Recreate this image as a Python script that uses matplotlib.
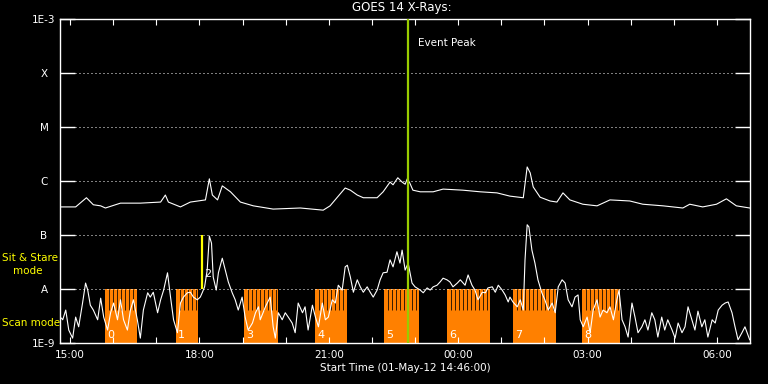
import matplotlib
matplotlib.use('Agg')
import matplotlib.pyplot as plt
import numpy as np
from matplotlib.ticker import NullLocator

# times are hours after 00:00 on 01-May-12 (values past 24 are 02-May)
long_t = [14.78, 15.13, 15.38, 15.54, 15.71, 15.82, 16.17, 16.63, 17.10, 17.21, 17.28, 17.56,
          17.79, 18.14, 18.23, 18.30, 18.42, 18.53, 18.72, 18.95, 19.25, 19.71, 20.34, 20.87,
          21.03, 21.22, 21.38, 21.50, 21.66, 21.80, 22.12, 22.26, 22.42, 22.49, 22.60, 22.70,
          22.77, 22.82, 22.88, 22.95, 23.12, 23.42, 23.65, 24.11, 24.51, 24.90, 25.20, 25.51,
          25.60, 25.67, 25.74, 25.90, 26.13, 26.29, 26.43, 26.59, 26.89, 27.22, 27.52, 27.98,
          28.28, 28.75, 29.21, 29.37, 29.67, 29.99, 30.22, 30.45, 30.76]
long_logf = [-6.48, -6.48, -6.31, -6.44, -6.46, -6.50, -6.41, -6.41, -6.39, -6.26, -6.39, -6.48,
             -6.39, -6.35, -5.96, -6.26, -6.35, -6.09, -6.20, -6.39, -6.46, -6.52, -6.50, -6.54,
             -6.46, -6.28, -6.13, -6.17, -6.26, -6.31, -6.31, -6.20, -6.02, -6.07, -5.94, -6.02,
             -6.06, -5.96, -6.04, -6.17, -6.20, -6.20, -6.15, -6.17, -6.20, -6.22, -6.28, -6.31,
             -5.74, -5.85, -6.11, -6.30, -6.37, -6.39, -6.22, -6.35, -6.43, -6.46, -6.35, -6.37,
             -6.43, -6.46, -6.50, -6.43, -6.48, -6.43, -6.33, -6.46, -6.50]

short_t = [14.80, 14.83, 14.90, 14.97, 15.06, 15.13, 15.20, 15.29, 15.36, 15.41, 15.47, 15.54,
           15.64, 15.71, 15.78, 15.87, 15.94, 16.01, 16.10, 16.17, 16.24, 16.33, 16.40, 16.47,
           16.56, 16.63, 16.70, 16.80, 16.86, 16.93, 17.03, 17.10, 17.17, 17.26, 17.33, 17.40,
           17.49, 17.56, 17.63, 17.72, 17.79, 17.86, 17.95, 18.02, 18.07, 18.12, 18.18, 18.23,
           18.28, 18.32, 18.39, 18.44, 18.53, 18.60, 18.67, 18.76, 18.83, 18.90, 18.99, 19.06,
           19.13, 19.23, 19.30, 19.37, 19.41, 19.53, 19.64, 19.71, 19.76, 19.83, 19.92, 19.99,
           20.06, 20.15, 20.22, 20.29, 20.39, 20.45, 20.52, 20.62, 20.69, 20.76, 20.85, 20.92,
           20.99, 21.08, 21.15, 21.22, 21.31, 21.38, 21.43, 21.50, 21.57, 21.66, 21.73, 21.80,
           21.89, 21.96, 22.03, 22.12, 22.19, 22.26, 22.35, 22.42, 22.49, 22.58, 22.65, 22.70,
           22.77, 22.84, 22.93, 23.00, 23.12, 23.19, 23.28, 23.35, 23.42, 23.51, 23.58, 23.65,
           23.74, 23.81, 23.88, 23.98, 24.05, 24.16, 24.23, 24.32, 24.39, 24.46, 24.56, 24.63,
           24.69, 24.79, 24.86, 24.93, 25.02, 25.09, 25.16, 25.20, 25.27, 25.37, 25.44, 25.51,
           25.55, 25.60, 25.64, 25.71, 25.78, 25.85, 25.94, 26.01, 26.09, 26.18, 26.25, 26.32,
           26.41, 26.48, 26.55, 26.64, 26.71, 26.78, 26.83, 26.90, 26.99, 27.06, 27.13, 27.22,
           27.29, 27.36, 27.45, 27.52, 27.60, 27.68, 27.73, 27.80, 27.87, 27.94, 28.03, 28.10,
           28.17, 28.26, 28.33, 28.40, 28.49, 28.56, 28.63, 28.72, 28.79, 28.86, 28.96, 29.03,
           29.10, 29.19, 29.26, 29.33, 29.42, 29.49, 29.56, 29.65, 29.72, 29.79, 29.89, 29.96,
           30.03, 30.12, 30.19, 30.26, 30.35, 30.42, 30.49, 30.58, 30.65, 30.72, 30.76]
short_logf = [-8.54, -8.57, -8.39, -8.76, -8.91, -8.52, -8.70, -8.26, -7.89, -8.02, -8.30, -8.39,
              -8.57, -8.17, -8.52, -8.76, -8.44, -8.26, -8.57, -8.20, -8.57, -8.76, -8.39, -8.20,
              -8.57, -8.91, -8.39, -8.07, -8.15, -8.06, -8.44, -8.20, -8.02, -7.70, -8.15, -8.57,
              -8.81, -8.26, -8.15, -8.07, -8.06, -8.15, -8.20, -8.15, -8.06, -7.96, -7.65, -7.02,
              -7.15, -7.78, -8.02, -7.70, -7.43, -7.65, -7.87, -8.07, -8.20, -8.39, -8.15, -8.52,
              -8.76, -8.63, -8.44, -8.33, -8.57, -8.33, -8.15, -8.70, -8.91, -8.44, -8.57, -8.44,
              -8.52, -8.63, -8.81, -8.26, -8.44, -8.33, -8.76, -8.30, -8.52, -8.70, -8.26, -8.57,
              -8.52, -8.20, -8.26, -7.93, -8.02, -7.59, -7.56, -7.78, -8.06, -7.83, -7.96, -8.06,
              -7.96, -8.06, -8.15, -8.02, -7.83, -7.70, -7.69, -7.46, -7.59, -7.31, -7.52, -7.28,
              -7.65, -7.52, -7.89, -7.96, -8.02, -8.07, -7.98, -8.02, -7.96, -7.93, -7.87, -7.80,
              -7.83, -7.87, -7.96, -7.89, -7.83, -7.93, -7.74, -7.93, -8.02, -8.20, -8.06, -8.07,
              -7.98, -7.96, -8.06, -7.93, -8.02, -8.11, -8.24, -8.15, -8.24, -8.33, -8.20, -8.39,
              -7.46, -6.81, -6.85, -7.28, -7.52, -7.83, -8.07, -8.20, -8.39, -8.26, -8.44, -7.96,
              -7.83, -7.89, -8.20, -8.33, -8.15, -8.11, -8.57, -8.70, -8.52, -8.81, -8.39, -8.20,
              -8.52, -8.39, -8.44, -8.33, -8.57, -8.20, -8.02, -8.57, -8.70, -8.89, -8.26, -8.52,
              -8.81, -8.70, -8.57, -8.76, -8.44, -8.57, -8.89, -8.52, -8.76, -8.57, -8.76, -8.91,
              -8.63, -8.81, -8.70, -8.33, -8.57, -8.76, -8.41, -8.70, -8.57, -8.89, -8.57, -8.63,
              -8.39, -8.30, -8.26, -8.24, -8.44, -8.70, -8.94, -8.81, -8.70, -8.85, -8.94]

# scan mode rasters
scan_start = [15.82, 17.46, 19.04, 20.69, 22.29, 23.75, 25.27, 26.88]
scan_end = [16.56, 17.97, 19.83, 21.43, 23.10, 24.74, 26.26, 27.75]
scan_labels = ['0', '1', '3', '4', '5', '6', '7', '8']

stare_time = 18.07
stare_label = '2'
peak_time = 22.835

goes_levels = [1e-9, 1e-8, 1e-7, 1e-6, 1e-5, 1e-4, 1e-3]
goes_names = ['1E-9', 'A', 'B', 'C', 'M', 'X', '1E-3']
hour_ticks = [15, 18, 21, 24, 27, 30]
hour_labels = ['15:00', '18:00', '21:00', '00:00', '03:00', '06:00']
t_start, t_end = 14.767, 30.767

ORANGE = '#ff8000'
GREEN = '#99cc00'
plt.rcParams['font.family'] = ['DejaVu Sans']

fig = plt.figure(figsize=(7.68, 3.84), dpi=100, facecolor='black')
ax = fig.add_axes([60 / 768, 41 / 384, 690 / 768, 324 / 384])
ax.set_facecolor('black')
ax.set_yscale('log')
ax.set_xlim(t_start, t_end)
ax.set_ylim(goes_levels[0], goes_levels[-1])

# scan mode blocks: solid lower part, striped upper part
split = 4.1e-9
step = 4 * (t_end - t_start) / 690
for s, e, lab in zip(scan_start, scan_end, scan_labels):
    ax.bar(s, split - 1e-9, bottom=1e-9, width=e - s, align='edge', color=ORANGE, lw=0, zorder=1)
    ax.bar(s, 1e-8 - split, bottom=split, width=e - s, align='edge', color=ORANGE, lw=0, zorder=1)
    xs = np.arange(s + step, e - 0.02, step)
    ax.vlines(xs, split, 1e-8, color='black', lw=0.55, zorder=1.5)
    ax.text(s + 0.04, 1.22e-9, lab, color='white', fontsize=8, ha='left', va='baseline', zorder=4)

# grid at GOES class levels
for lv in goes_levels[1:-1]:
    ax.axhline(lv, xmin=15 / 690, xmax=1 - 15 / 690, color='white', lw=0.72,
               linestyle=(0, (1, 3)), zorder=2)

ax.plot(long_t, 10 ** np.array(long_logf), color='white', lw=0.8, zorder=3)
ax.plot(short_t, 10 ** np.array(short_logf), color='white', lw=0.8, zorder=3)

ax.vlines(stare_time, 1e-8, 1e-7, color='yellow', lw=1.6, zorder=5)
ax.text(stare_time + 0.05, 1.9e-8, stare_label, color='white', fontsize=8, ha='left', va='center', zorder=4)
ax.axvline(peak_time, color=GREEN, lw=1.6, zorder=5)
ax.text(peak_time + 0.23, 3.6e-4, 'Event Peak', color='white', fontsize=7.5, ha='left', va='center')

# axes styling
for sp in ax.spines.values():
    sp.set_color('white')
    sp.set_linewidth(1.0)
ax.yaxis.set_minor_locator(NullLocator())
ax.set_yticks(goes_levels)
ax.set_yticklabels(goes_names)
ax.set_xticks(hour_ticks)
ax.set_xticklabels(hour_labels)
ax.set_xticks(np.arange(15, 31), minor=True)
ax.tick_params(axis='y', which='major', direction='in', length=10.8, width=1.0, color='white',
               right=True, labelcolor='white', labelsize=7.5, pad=11.5)
ax.tick_params(axis='x', which='both', direction='in', length=4, width=0.8, color='white',
               top=True, labelcolor='white', labelsize=7.5, pad=5)
for lab in ax.get_yticklabels():
    lab.set_ha('center')

fig.text(402 / 768, 1 - 8 / 384, 'GOES 14 X-Rays:', color='white', fontsize=8.5, ha='center', va='center')
fig.text(405 / 768, 1 - 368 / 384, 'Start Time (01-May-12 14:46:00)', color='white', fontsize=7.5,
         ha='center', va='center')
fig.text(2 / 768, 1 - 258 / 384, 'Sit & Stare', color='yellow', fontsize=7.5, ha='left', va='center')
fig.text(13 / 768, 1 - 271 / 384, 'mode', color='yellow', fontsize=7.5, ha='left', va='center')
fig.text(2 / 768, 1 - 323 / 384, 'Scan mode', color='yellow', fontsize=7.5, ha='left', va='center')

fig.savefig('out.png', dpi=100, facecolor='black')
